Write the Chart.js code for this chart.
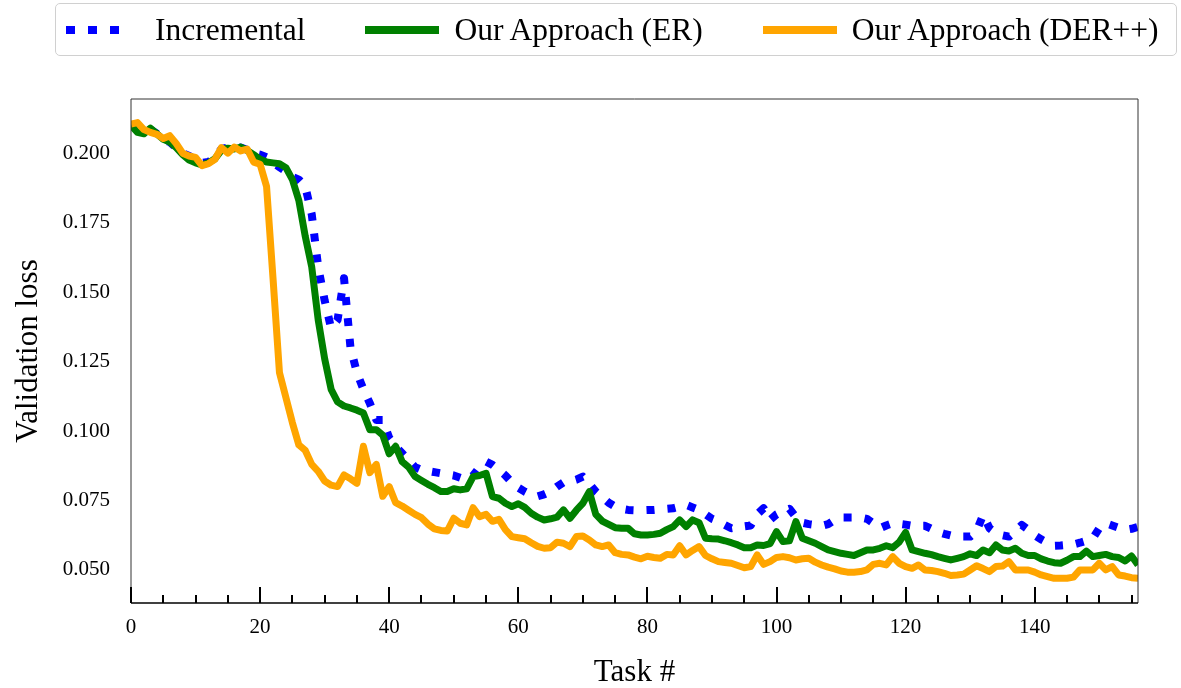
<!DOCTYPE html>
<html>
<head>
<meta charset="utf-8">
<script src="https://cdn.jsdelivr.net/npm/chart.js@4.4.1/dist/chart.umd.min.js"></script>
<style>
    body { margin: 0; background: #fff; }
    #wrap { position: relative; width: 1181px; height: 688px; }
    #legend {
        position: absolute; left: 55px; top: 3px; width: 1122px; height: 53px;
        border: 1px solid #d0d0d0; border-radius: 5px; box-sizing: border-box;
        display: flex; align-items: center; padding-left: 10px;
        font-family: "Liberation Serif", serif; font-size: 31.5px; color: #000;
    }
    .item { display: flex; align-items: center; margin-right: 60px; }
    .item:last-child { margin-right: 0; }
    .marker { width: 74px; height: 8px; margin-right: 15px; }
</style>
</head>
<body>
<div id="wrap">
    <canvas id="chart" width="1181" height="688"></canvas>
    <div id="legend"></div>
</div>
<script>
// series names and styles
const seriesNames = ['Incremental', 'Our Approach (ER)', 'Our Approach (DER++)'];
const seriesColors = ['#0000ff', '#008000', '#ffa500'];

const xTickValues = [0, 20, 40, 60, 80, 100, 120, 140];
const yTickValues = [0.050, 0.075, 0.100, 0.125, 0.150, 0.175, 0.200];

// validation loss per task (0..156)
const incremental = [
    0.2100, 0.2095, 0.2080, 0.2085, 0.2070, 0.2050, 0.2040, 0.2020, 0.2000, 0.1990,
    0.1980, 0.1965, 0.1968, 0.1985, 0.2015, 0.2020, 0.2020, 0.2020, 0.2012, 0.2000,
    0.1995, 0.1985, 0.1965, 0.1950, 0.1935, 0.1915, 0.1905, 0.1880, 0.1780, 0.1590,
    0.1470, 0.1370, 0.1400, 0.1550, 0.1300, 0.1210, 0.1150, 0.1100, 0.1040, 0.1040,
    0.0975, 0.0945, 0.0920, 0.0895, 0.0870, 0.0860, 0.0856, 0.0852, 0.0848, 0.0844,
    0.0840, 0.0832, 0.0824, 0.0840, 0.0870, 0.0890, 0.0878, 0.0860, 0.0840, 0.0815,
    0.0796, 0.0782, 0.0770, 0.0765, 0.0772, 0.0782, 0.0800, 0.0815, 0.0818, 0.0825,
    0.0836, 0.0810, 0.0782, 0.0762, 0.0742, 0.0728, 0.0720, 0.0716, 0.0715, 0.0715,
    0.0716, 0.0716, 0.0718, 0.0720, 0.0722, 0.0728, 0.0734, 0.0725, 0.0716, 0.0700,
    0.0684, 0.0675, 0.0662, 0.0650, 0.0654, 0.0657, 0.0660, 0.0700, 0.0722, 0.0680,
    0.0700, 0.0712, 0.0720, 0.0690, 0.0670, 0.0665, 0.0662, 0.0659, 0.0665, 0.0680,
    0.0689, 0.0689, 0.0689, 0.0689, 0.0684, 0.0668, 0.0650, 0.0660, 0.0668, 0.0666,
    0.0663, 0.0659, 0.0659, 0.0659, 0.0648, 0.0637, 0.0630, 0.0624, 0.0620, 0.0620,
    0.0620, 0.0640, 0.0698, 0.0650, 0.0632, 0.0625, 0.0620, 0.0640, 0.0662, 0.0645,
    0.0625, 0.0610, 0.0598, 0.0587, 0.0588, 0.0590, 0.0592, 0.0598, 0.0605, 0.0614,
    0.0650, 0.0668, 0.0660, 0.0652, 0.0644, 0.0648, 0.0655
];

const approachER = [
    0.2100, 0.2075, 0.2070, 0.2090, 0.2070, 0.2050, 0.2040, 0.2020, 0.1995, 0.1975,
    0.1965, 0.1958, 0.1965, 0.1980, 0.2010, 0.2018, 0.2015, 0.2022, 0.2010, 0.1995,
    0.1978, 0.1968, 0.1965, 0.1962, 0.1948, 0.1905, 0.1830, 0.1700, 0.1590, 0.1400,
    0.1260, 0.1150, 0.1105, 0.1090, 0.1083, 0.1075, 0.1065, 0.1005, 0.1005, 0.0985,
    0.0918, 0.0945, 0.0890, 0.0870, 0.0836, 0.0822, 0.0808, 0.0796, 0.0782, 0.0782,
    0.0792, 0.0788, 0.0792, 0.0836, 0.0840, 0.0848, 0.0764, 0.0758, 0.0740, 0.0728,
    0.0738, 0.0725, 0.0704, 0.0690, 0.0680, 0.0684, 0.0690, 0.0716, 0.0686, 0.0715,
    0.0740, 0.0782, 0.0700, 0.0676, 0.0664, 0.0652, 0.0650, 0.0650, 0.0630, 0.0626,
    0.0626, 0.0628, 0.0632, 0.0645, 0.0656, 0.0680, 0.0656, 0.0680, 0.0670, 0.0614,
    0.0612, 0.0611, 0.0605, 0.0598, 0.0590, 0.0580, 0.0580, 0.0590, 0.0588, 0.0595,
    0.0638, 0.0602, 0.0605, 0.0674, 0.0614, 0.0605, 0.0596, 0.0584, 0.0572, 0.0566,
    0.0560, 0.0556, 0.0552, 0.0562, 0.0572, 0.0572, 0.0578, 0.0587, 0.0580, 0.0600,
    0.0635, 0.0572, 0.0566, 0.0560, 0.0555, 0.0548, 0.0542, 0.0536, 0.0542, 0.0548,
    0.0558, 0.0552, 0.0572, 0.0562, 0.0590, 0.0572, 0.0568, 0.0578, 0.0560, 0.0552,
    0.0552, 0.0540, 0.0532, 0.0526, 0.0524, 0.0535, 0.0548, 0.0548, 0.0568, 0.0548,
    0.0552, 0.0556, 0.0548, 0.0545, 0.0532, 0.0550, 0.0518
];

const approachDER = [
    0.2105, 0.2110, 0.2085, 0.2075, 0.2068, 0.2053, 0.2063, 0.2035, 0.2000, 0.1990,
    0.1985, 0.1955, 0.1962, 0.1978, 0.2020, 0.2000, 0.2022, 0.2008, 0.2015, 0.1968,
    0.1960, 0.1880, 0.1550, 0.1210, 0.1120, 0.1030, 0.0950, 0.0930, 0.0880, 0.0855,
    0.0820, 0.0805, 0.0800, 0.0842, 0.0828, 0.0812, 0.0945, 0.0850, 0.0880, 0.0765,
    0.0800, 0.0742, 0.0730, 0.0715, 0.0700, 0.0688, 0.0665, 0.0648, 0.0642, 0.0640,
    0.0686, 0.0668, 0.0662, 0.0724, 0.0692, 0.0700, 0.0675, 0.0682, 0.0645, 0.0620,
    0.0616, 0.0612, 0.0598, 0.0585, 0.0578, 0.0580, 0.0600, 0.0596, 0.0584, 0.0620,
    0.0622, 0.0608, 0.0590, 0.0584, 0.0590, 0.0562, 0.0556, 0.0554, 0.0546, 0.0540,
    0.0549, 0.0545, 0.0542, 0.0556, 0.0554, 0.0587, 0.0554, 0.0570, 0.0584, 0.0552,
    0.0540, 0.0530, 0.0527, 0.0524, 0.0516, 0.0508, 0.0512, 0.0554, 0.0520, 0.0530,
    0.0545, 0.0548, 0.0544, 0.0536, 0.0540, 0.0542, 0.0528, 0.0518, 0.0510, 0.0504,
    0.0496, 0.0492, 0.0492, 0.0494, 0.0500, 0.0520, 0.0524, 0.0518, 0.0548, 0.0524,
    0.0512, 0.0506, 0.0518, 0.0500, 0.0498, 0.0494, 0.0488, 0.0480, 0.0482, 0.0485,
    0.0500, 0.0515, 0.0505, 0.0494, 0.0512, 0.0514, 0.0530, 0.0500, 0.0500, 0.0500,
    0.0492, 0.0482, 0.0476, 0.0470, 0.0470, 0.0470, 0.0474, 0.0500, 0.0500, 0.0500,
    0.0524, 0.0500, 0.0512, 0.0482, 0.0478, 0.0472, 0.0470
];

const tasks = incremental.map((_, i) => i);

const serif = '"Liberation Serif", "Times New Roman", serif';

// html legend, same order as the figure
let legendBox = document.getElementById('legend');
seriesNames.forEach((name, i) => {
    let item = document.createElement('div');
    item.className = 'item';
    let marker = document.createElement('div');
    marker.className = 'marker';
    if (i === 0) {
        marker.style.background = 'repeating-linear-gradient(to right, ' + seriesColors[0] + ' 0 9px, transparent 9px 22px)';
        marker.style.backgroundSize = '53px 8px';
        marker.style.backgroundRepeat = 'no-repeat';
    } else {
        marker.style.background = seriesColors[i];
    }
    let label = document.createElement('span');
    label.textContent = name;
    item.appendChild(marker);
    item.appendChild(label);
    legendBox.appendChild(item);
});

// frame + inward ticks on the bottom axis
const framePlugin = {
    id: 'frame',
    afterDraw(chart) {
        const ctx = chart.ctx;
        const area = chart.chartArea;
        const xScale = chart.scales.x;
        ctx.save();
        ctx.strokeStyle = '#333';
        ctx.lineWidth = 1;
        ctx.beginPath();
        ctx.moveTo(area.left, area.bottom);
        ctx.lineTo(area.left, area.top);
        ctx.lineTo(area.right, area.top);
        ctx.lineTo(area.right, area.bottom);
        ctx.stroke();

        ctx.strokeStyle = '#000';
        ctx.lineWidth = 1.5;
        ctx.beginPath();
        ctx.moveTo(area.left, area.bottom);
        ctx.lineTo(area.right, area.bottom);
        ctx.stroke();

        ctx.lineWidth = 2;
        for (let v = 0; v <= xScale.max; v += 5) {
            let px = Math.round(xScale.getPixelForValue(v));
            let len = (v % 20 === 0) ? 16 : 8;
            ctx.beginPath();
            ctx.moveTo(px, area.bottom);
            ctx.lineTo(px, area.bottom - len);
            ctx.stroke();
        }
        ctx.restore();
    }
};

const chart = new Chart(document.getElementById('chart'), {
    type: 'line',
    data: {
        labels: tasks,
        datasets: [
            {
                label: seriesNames[0],
                data: incremental,
                borderColor: seriesColors[0],
                borderWidth: 8,
                borderDash: [8, 13],
                borderCapStyle: 'butt',
                order: 3
            },
            {
                label: seriesNames[1],
                data: approachER,
                borderColor: seriesColors[1],
                borderWidth: 7,
                order: 2
            },
            {
                label: seriesNames[2],
                data: approachDER,
                borderColor: seriesColors[2],
                borderWidth: 7,
                order: 1
            }
        ]
    },
    options: {
        responsive: false,
        animation: false,
        devicePixelRatio: 1,
        layout: { padding: { top: 99, right: 43, left: 0, bottom: 0 } },
        elements: {
            point: { radius: 0 },
            line: { tension: 0, borderJoinStyle: 'round', fill: false }
        },
        plugins: {
            legend: { display: false },
            tooltip: { enabled: false }
        },
        scales: {
            x: {
                type: 'linear',
                min: 0,
                max: 156,
                grid: { display: false, drawTicks: false },
                border: { display: false },
                afterBuildTicks: (scale) => {
                    scale.ticks = xTickValues.map((v) => ({ value: v }));
                },
                afterFit: (scale) => { scale.height = 85; },
                ticks: {
                    color: '#000',
                    padding: 12,
                    maxRotation: 0,
                    font: { family: serif, size: 21 }
                },
                title: {
                    display: true,
                    text: 'Task #',
                    color: '#000',
                    padding: 0,
                    font: { family: serif, size: 31, lineHeight: 1 }
                }
            },
            y: {
                min: 0.0381,
                max: 0.2195,
                grid: { display: false, drawTicks: false },
                border: { display: false },
                afterBuildTicks: (scale) => {
                    scale.ticks = yTickValues.map((v) => ({ value: v }));
                },
                afterFit: (scale) => { scale.width = 131; },
                ticks: {
                    color: '#000',
                    padding: 21,
                    font: { family: serif, size: 21 },
                    callback: (value) => Number(value).toFixed(3)
                },
                title: {
                    display: true,
                    text: 'Validation loss',
                    color: '#000',
                    padding: { top: 13, bottom: 0 },
                    font: { family: serif, size: 31, lineHeight: 1 }
                }
            }
        }
    },
    plugins: [framePlugin]
});
</script>
</body>
</html>
